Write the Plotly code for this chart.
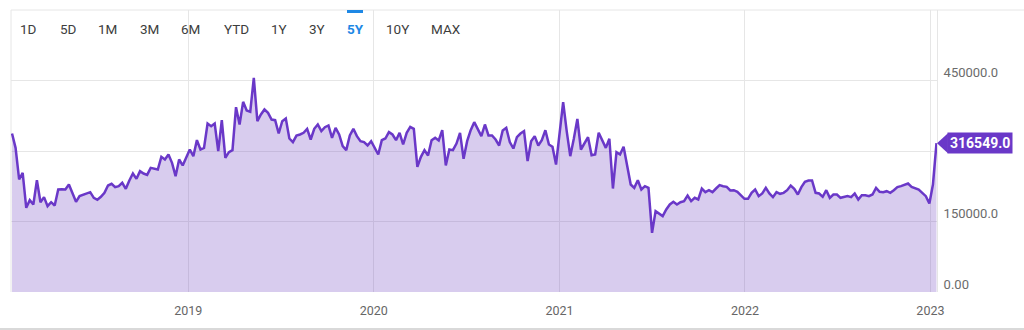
import pandas as pd
import plotly.graph_objects as go

# ---------------- data (weekly values) ----------------
values = [
    337240, 306740, 239400, 253600, 179100, 195400, 186200, 237900, 191100, 201800,
    182600, 191100, 184000, 218100, 218500, 218100, 228700, 211000, 191900, 204000,
    206800, 209000, 212400, 200400, 196100, 202500, 211000, 226600, 230100, 223100,
    225200, 232300, 219500, 237200, 252100, 240800, 257100, 252100, 249300, 264200,
    262800, 260600, 287600, 281900,
    292600, 274800, 246500, 281900, 269200, 285500, 303200, 289000, 323100, 303200,
    306700, 358500, 352800, 358500, 299600, 365600, 285500, 297500, 301800, 393300,
    356400, 404600, 386200, 383300, 455700, 363500, 377700, 388300, 381200, 367000,
    365600, 337200, 363500, 369200, 326600, 318800, 332800, 335100, 338700, 347200,
    324500, 347200, 356400, 342200,
    350700, 354300, 328000, 349300, 335100, 310300, 301800, 333000, 347200, 331600,
    320900, 318800, 311700, 320900, 306700, 292600, 323000, 326600, 340100, 335100,
    323000, 338700, 313800, 338700, 351400, 347200, 266300, 287600, 301800, 290400,
    323000, 328000, 322300, 344300, 269200, 303200, 301800, 315900, 338700, 283300,
    320900, 344300, 361400,
    347200, 331600, 356400, 333000, 333000, 324500, 311700, 343600, 349300, 318800,
    305300, 329400, 337200, 342200, 278400, 320900, 331600, 311700, 323000, 344300,
    313800, 308900, 271300, 335100, 403900, 342200, 289000, 326000, 368400, 303200,
    315900, 329400, 291100, 292600, 338700, 320900, 306700, 326000, 220200, 297500,
    292600, 308900, 270000,
    228700, 221600, 237900, 218100, 225200, 221600, 125900, 172000, 167000, 161400,
    175600, 186200, 191900, 186200, 191100, 193300, 205300, 193300, 200400, 196800,
    220200, 212400, 216600, 212400, 220200, 227300, 225200, 223800, 216000, 216600,
    213100, 205300, 198200, 198200, 211000, 218100, 203900, 209600, 221600, 209600,
    201800, 212400, 208900, 211000,
    216600, 226600, 219500, 207500, 223100, 234400, 237200, 237200, 211000, 209600,
    202500, 216600, 200400, 207500, 207500, 200400, 202500, 204000, 201800, 209600,
    196800, 206000, 206000, 203900, 207500, 221600, 213100, 212400, 214500, 211000,
    216600, 223100, 225200, 228700, 230800, 223800, 220200, 218100, 211000, 203900,
    188300, 228700, 316549,
]
dates = pd.date_range(end="2023-01-13", periods=len(values), freq="7D")

x_range = ["2018-01-17", "2023-01-14"]
y_range = [0, 600000]
y_tickvals = [0, 150000, 300000, 450000, 600000]
y_ticktext = ["0.00", "150000.0", "", "450000.0", ""]
x_tickvals = ["2019-01-01", "2020-01-01", "2021-01-01", "2022-01-01", "2023-01-01"]
x_ticktext = ["2019", "2020", "2021", "2022", "2023"]

buttons = ["1D", "5D", "1M", "3M", "6M", "YTD", "1Y", "3Y", "5Y", "10Y", "MAX"]
button_px = [28, 68, 107, 149, 190, 236, 279, 317, 355, 397, 446]
active_button = "5Y"

last_value = values[-1]
last_label = f"{last_value:.1f}"

# ---------------- styling ----------------
W, H = 1024, 330
ML, MR, MT, MB = 11, 87, 10, 38
PW, PH = W - ML - MR, H - MT - MB
PURPLE = "#6a38c8"
FILL = "rgba(111,66,193,0.27)"
GRID = "#e6e6e6"
FONT = "Roboto"


def px_x(px):
    return (px - ML) / PW


def px_y(py):
    return (H - MB - py) / PH


fig = go.Figure()
fig.add_trace(go.Scatter(
    x=dates, y=values, mode="lines",
    line=dict(color=PURPLE, width=2.5),
    fill="tozeroy", fillcolor=FILL,
    hoverinfo="skip", showlegend=False,
))

annotations = []
for b, px in zip(buttons, button_px):
    active = b == active_button
    annotations.append(dict(
        xref="paper", yref="paper", x=px_x(px), y=px_y(29),
        text=f"<b>{b}</b>" if active else b, showarrow=False,
        xanchor="center", yanchor="middle",
        font=dict(family=FONT, size=13.5, color="#1e88e5" if active else "#3d3d3d"),
    ))

annotations.append(dict(
    xref="paper", yref="y", x=1, y=last_value, xshift=10,
    xanchor="left", yanchor="middle", showarrow=False,
    text=f"<b>{last_label}</b>", bgcolor=PURPLE, borderpad=2,
    font=dict(family=FONT, size=14, color="white"),
))

val_per_px = (y_range[1] - y_range[0]) / PH
half = 10 * val_per_px
tip_dx = 10 / PW
shapes = [
    # pointer of the last value tag
    dict(type="path", xref="paper", yref="y",
         path=f"M 1 {last_value} L {1 + tip_dx + 0.001} {last_value + half} "
              f"L {1 + tip_dx + 0.001} {last_value - half} Z",
         fillcolor=PURPLE, line=dict(width=0), layer="above"),
    # active button marker
    dict(type="rect", xref="paper", yref="paper",
         x0=px_x(347), x1=px_x(363), y0=px_y(13), y1=px_y(10),
         fillcolor="#1e88e5", line=dict(width=0), layer="above"),
    # frame: top, left, bottom
    dict(type="line", xref="paper", yref="paper", x0=0, x1=px_x(W), y0=1, y1=1,
         line=dict(color=GRID, width=1), layer="below"),
    dict(type="line", xref="paper", yref="paper", x0=0, x1=0, y0=0, y1=1,
         line=dict(color=GRID, width=1), layer="below"),
    dict(type="line", xref="paper", yref="paper", x0=px_x(0), x1=px_x(W),
         y0=px_y(329), y1=px_y(329), line=dict(color="#d9d9d9", width=2)),
]

fig.update_layout(
    width=W, height=H,
    margin=dict(l=ML, r=MR, t=MT, b=MB, pad=0),
    paper_bgcolor="white", plot_bgcolor="white",
    font=dict(family=FONT),
    annotations=annotations, shapes=shapes,
    xaxis=dict(
        type="date", range=x_range, tickvals=x_tickvals, ticktext=x_ticktext,
        showgrid=True, gridcolor=GRID, gridwidth=1, zeroline=False, showline=False,
        ticks="", tickfont=dict(family=FONT, size=12.5, color="#666666"),
        ticklabelstandoff=9, fixedrange=True,
    ),
    yaxis=dict(
        side="right", range=y_range, tickvals=y_tickvals, ticktext=y_ticktext,
        showgrid=True, gridcolor=GRID, gridwidth=1, zeroline=False,
        showline=True, linecolor=GRID, linewidth=1,
        ticks="", tickfont=dict(family=FONT, size=13, color="#6b6b6b"),
        ticklabelshift=-8, ticklabelstandoff=3, fixedrange=True,
    ),
    hovermode=False,
)

fig.write_html("out.html", config={"displayModeBar": False})
